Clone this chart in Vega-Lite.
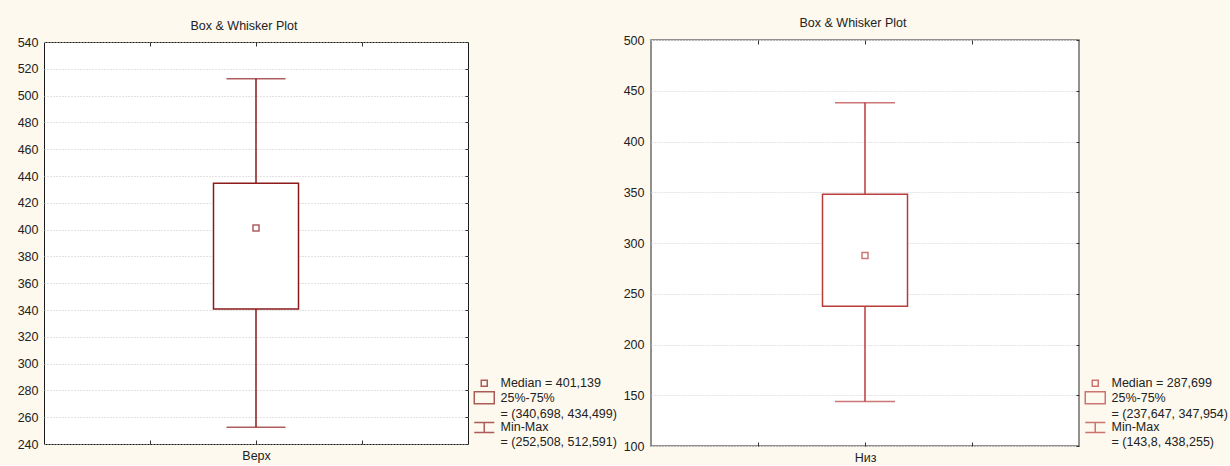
{
  "$schema": "https://vega.github.io/schema/vega-lite/v6.json",
  "background": "#fdf9ee",
  "padding": {"left": 16, "top": 16, "right": 0, "bottom": 0},
  "config": {
    "font": "Liberation Sans",
    "axis": {"labelFont": "Liberation Sans", "labelFontSize": 12.5, "labelColor": "#222", "domain": false, "tickColor": "#333"},
    "legend": {"labelFont": "Liberation Sans"},
    "title": {"font": "Liberation Sans"}
  },
  "spacing": 183,
  "bounds": "flush",
  "center": true,
  "resolve": {"scale": {"x": "independent", "y": "independent", "shape": "independent"}, "legend": {"shape": "independent"}},
  "hconcat": [
    {
      "width": 424,
      "height": 402,
      "view": {"stroke": "#1a1a1a", "strokeWidth": 1, "fill": "white"},
      "title": {"text": "Box & Whisker Plot", "frame": "group", "dx": -12, "dy": -2, "offset": 1.5, "fontSize": 12.5, "fontWeight": "normal", "color": "#222"},
      "data": {"values": [
        {"group": "Верх", "min": 252.508, "q1": 340.698, "median": 401.139, "q3": 434.499, "max": 512.591, "legend": "Median = 401,139"}
      ]},
      "resolve": {"axis": {"x": "independent", "y": "independent"}},
      "layer": [
        {"mark": {"type": "rule", "color": "#8b1a1a", "strokeWidth": 1.5},
         "encoding": {
           "x": {"field": "group", "type": "nominal",
             "scale": {"type": "point", "domain": ["L", "Верх", "R"], "padding": 1},
             "axis": {"title": null, "orient": "bottom", "labelAngle": 0, "tickSize": -4, "labelPadding": 9, "grid": false,
               "labelExpr": "datum.value == 'Верх' ? datum.label : ''"}},
           "y": {"field": "min", "type": "quantitative", "scale": {"domain": [240, 540], "nice": false, "zero": false},
             "axis": {"title": null, "orient": "left", "values": [240,260,280,300,320,340,360,380,400,420,440,460,480,500,520,540], "grid": true, "gridColor": "#c4c4c4", "gridDash": [1, 2], "ticks": false, "labelPadding": 6}},
           "y2": {"field": "max"}}},
        {"mark": {"type": "bar", "fill": "white", "stroke": "#8b1a1a", "strokeWidth": 1.5, "size": 85},
         "encoding": {
           "x": {"field": "group", "type": "nominal", "scale": {"type": "point", "domain": ["L", "Верх", "R"], "padding": 1}, "axis": null},
           "y": {"field": "q1", "type": "quantitative", "scale": {"domain": [240, 540], "nice": false, "zero": false}, "axis": null},
           "y2": {"field": "q3"}}},
        {"mark": {"type": "tick", "color": "#8b1a1a", "thickness": 1.5, "size": 59},
         "encoding": {
           "x": {"field": "group", "type": "nominal", "scale": {"type": "point", "domain": ["L", "Верх", "R"], "padding": 1}, "axis": null},
           "y": {"field": "min", "type": "quantitative", "scale": {"domain": [240, 540], "nice": false, "zero": false}, "axis": null}}},
        {"mark": {"type": "tick", "color": "#8b1a1a", "thickness": 1.5, "size": 59},
         "encoding": {
           "x": {"field": "group", "type": "nominal", "scale": {"type": "point", "domain": ["L", "Верх", "R"], "padding": 1},
             "axis": {"orient": "top", "title": null, "labels": false, "tickSize": -4, "grid": false}},
           "y": {"field": "max", "type": "quantitative", "scale": {"domain": [240, 540], "nice": false, "zero": false},
             "axis": {"orient": "right", "title": null, "labels": false, "grid": false, "tickSize": -3, "values": [240,260,280,300,320,340,360,380,400,420,440,460,480,500,520,540]}}}},
        {"mark": {"type": "point", "filled": false, "color": "#8b1a1a", "strokeWidth": 1.5, "size": 100},
         "encoding": {
           "x": {"field": "group", "type": "nominal", "scale": {"type": "point", "domain": ["L", "Верх", "R"], "padding": 1}, "axis": null},
           "y": {"field": "median", "type": "quantitative", "scale": {"domain": [240, 540], "nice": false, "zero": false}, "axis": null},
           "shape": {"field": "legend", "type": "nominal",
             "scale": {"domain": ["Median = 401,139", "25%-75%", "= (340,698, 434,499)", "Min-Max", "= (252,508, 512,591)"],
               "range": ["M-0.6,-0.6H0.6V0.6H-0.6Z", "M-2,-1.2H2V1.2H-2Z", "M0,0", "M-2,-1H2M0,-1V1M-2,1H2", "M0,0"]},
             "legend": {"orient": "none", "legendX": 434, "legendY": 335, "title": null, "symbolSize": 100,
               "symbolStrokeColor": "#8b1a1a", "symbolFillColor": "transparent", "symbolStrokeWidth": 1.5,
               "labelFontSize": 12.5, "labelColor": "#222", "labelLimit": 250, "labelOffset": 10, "rowPadding": -1.4, "padding": 0}}}}
      ]
    },
    {
      "width": 428,
      "height": 406,
      "view": {"stroke": "#6e6e6e", "strokeWidth": 1.5, "fill": "white"},
      "title": {"text": "Box & Whisker Plot", "frame": "group", "dx": -12, "offset": 4.5, "fontSize": 12.5, "fontWeight": "normal", "color": "#222"},
      "data": {"values": [
        {"group": "Низ", "min": 143.8, "q1": 237.647, "median": 287.699, "q3": 347.954, "max": 438.255, "legend": "Median = 287,699"}
      ]},
      "resolve": {"axis": {"x": "independent", "y": "independent"}},
      "layer": [
        {"mark": {"type": "rule", "color": "#b83c3c", "strokeWidth": 1.5},
         "encoding": {
           "x": {"field": "group", "type": "nominal",
             "scale": {"type": "point", "domain": ["L", "Низ", "R"], "padding": 1},
             "axis": {"title": null, "orient": "bottom", "labelAngle": 0, "tickSize": -4, "labelPadding": 9, "grid": false,
               "labelExpr": "datum.value == 'Низ' ? datum.label : ''"}},
           "y": {"field": "min", "type": "quantitative", "scale": {"domain": [100, 500], "nice": false, "zero": false},
             "axis": {"title": null, "orient": "left", "values": [100,150,200,250,300,350,400,450,500], "grid": true, "gridColor": "#e2e2e2", "gridDash": [2, 1], "ticks": false, "labelPadding": 7}},
           "y2": {"field": "max"}}},
        {"mark": {"type": "bar", "fill": "white", "stroke": "#b83c3c", "strokeWidth": 1.5, "size": 85},
         "encoding": {
           "x": {"field": "group", "type": "nominal", "scale": {"type": "point", "domain": ["L", "Низ", "R"], "padding": 1}, "axis": null},
           "y": {"field": "q1", "type": "quantitative", "scale": {"domain": [100, 500], "nice": false, "zero": false}, "axis": null},
           "y2": {"field": "q3"}}},
        {"mark": {"type": "tick", "color": "#b83c3c", "thickness": 1.5, "size": 60},
         "encoding": {
           "x": {"field": "group", "type": "nominal", "scale": {"type": "point", "domain": ["L", "Низ", "R"], "padding": 1}, "axis": null},
           "y": {"field": "min", "type": "quantitative", "scale": {"domain": [100, 500], "nice": false, "zero": false}, "axis": null}}},
        {"mark": {"type": "tick", "color": "#b83c3c", "thickness": 1.5, "size": 60},
         "encoding": {
           "x": {"field": "group", "type": "nominal", "scale": {"type": "point", "domain": ["L", "Низ", "R"], "padding": 1},
             "axis": {"orient": "top", "title": null, "labels": false, "tickSize": -4, "grid": false}},
           "y": {"field": "max", "type": "quantitative", "scale": {"domain": [100, 500], "nice": false, "zero": false},
             "axis": {"orient": "right", "title": null, "labels": false, "grid": false, "tickSize": -3, "values": [100,150,200,250,300,350,400,450,500]}}}},
        {"mark": {"type": "point", "filled": false, "color": "#b83c3c", "strokeWidth": 1.5, "size": 100},
         "encoding": {
           "x": {"field": "group", "type": "nominal", "scale": {"type": "point", "domain": ["L", "Низ", "R"], "padding": 1}, "axis": null},
           "y": {"field": "median", "type": "quantitative", "scale": {"domain": [100, 500], "nice": false, "zero": false}, "axis": null},
           "shape": {"field": "legend", "type": "nominal",
             "scale": {"domain": ["Median = 287,699", "25%-75%", "= (237,647, 347,954)", "Min-Max", "= (143,8, 438,255)"],
               "range": ["M-0.6,-0.6H0.6V0.6H-0.6Z", "M-2,-1.2H2V1.2H-2Z", "M0,0", "M-2,-1H2M0,-1V1M-2,1H2", "M0,0"]},
             "legend": {"orient": "none", "legendX": 438, "legendY": 337, "title": null, "symbolSize": 100,
               "symbolStrokeColor": "#b83c3c", "symbolFillColor": "transparent", "symbolStrokeWidth": 1.5,
               "labelFontSize": 12.5, "labelColor": "#222", "labelLimit": 250, "labelOffset": 10, "rowPadding": -1.4, "padding": 0}}}}
      ]
    }
  ]
}
